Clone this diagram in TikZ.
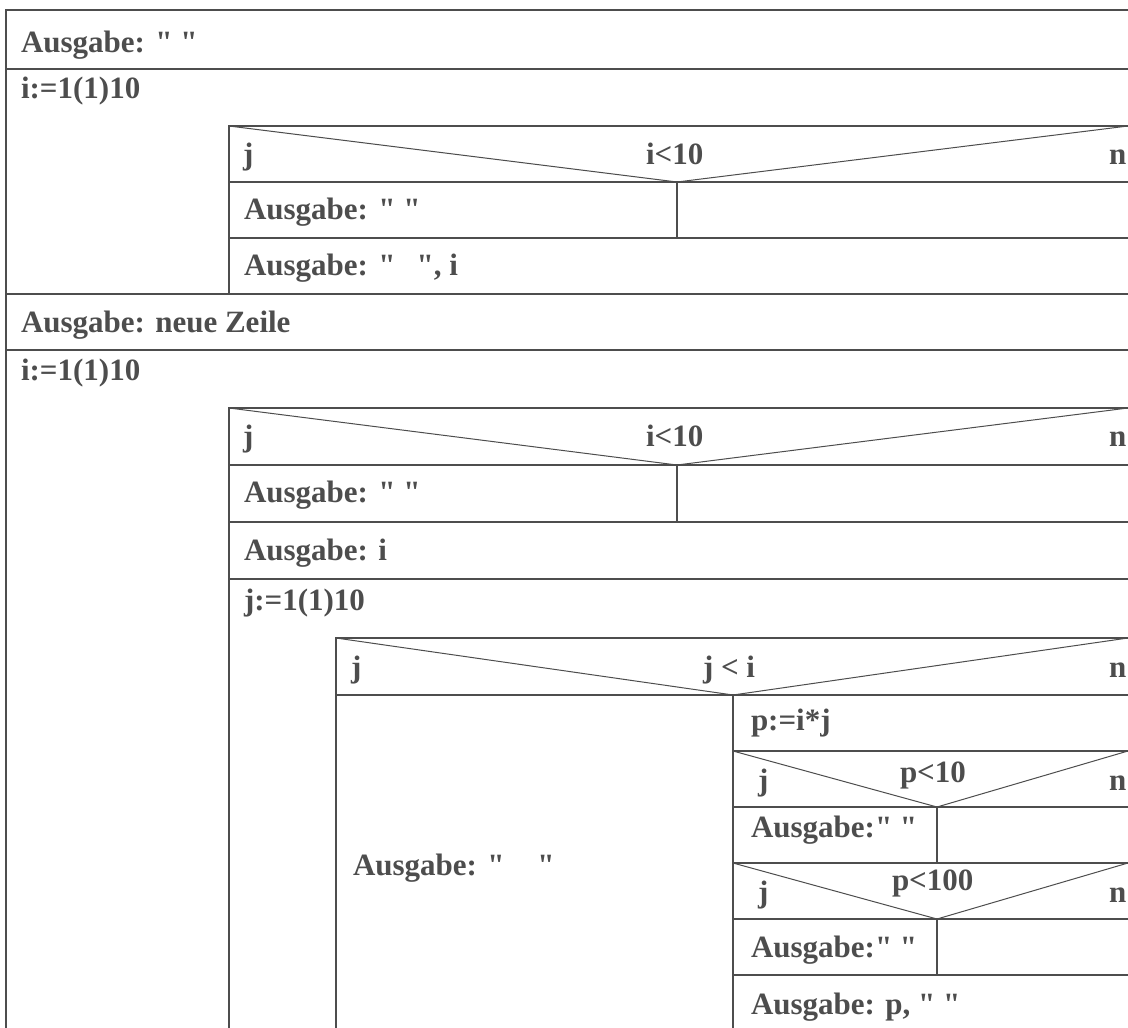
\documentclass[tikz,border=0pt]{standalone}
\usepackage{fontspec}
\setmainfont{Liberation Serif}[Ligatures=TeXOff]
\definecolor{strukgray}{HTML}{4D4D4D}
\tikzset{
  txt/.style={anchor=base west, inner sep=0pt, text=strukgray,
    font=\fontsize{31}{37}\selectfont\bfseries},
  diag/.style={line width=1pt},
}

\begin{document}
\begin{tikzpicture}[x=1pt, y=-1pt, line width=2pt, draw=strukgray]
\useasboundingbox (0,0) rectangle (1128,1028);

% outer frame, first two rows
\draw (1128,10) -- (6,10) -- (6,1028);
\draw (6,69) -- (1128,69);
\node[txt] (out1) at (20,52) {Ausgabe: " "};
\node[txt] (loop1) at (20,98) {i:=1(1)10};

% first loop body
\coordinate (d1) at (677,182); % tip of i<10
\draw (229,294) -- (229,126) -- (1128,126);
\draw (229,182) -- (1128,182);
\draw (229,238) -- (1128,238);
\draw (d1) -- (677,238);
\draw[diag] (229,126) -- (d1) -- (1128,126);
\node[txt] (j1) at (242,164) {j};
\node[txt] (c1) at (645,164) {i<10};
\node[txt] (n1) at (1108,164) {n};
\node[txt] (out2) at (243,219) {Ausgabe: " "};
\node[txt] (out3) at (243,275) {Ausgabe: "\hspace{0.68em}", i};

% middle rows
\draw (6,294) -- (1128,294);
\draw (6,350) -- (1128,350);
\node[txt] (out4) at (20,332) {Ausgabe: neue Zeile};
\node[txt] (loop2) at (20,380) {i:=1(1)10};

% second loop body
\coordinate (d2) at (677,465); % tip of i<10
\draw (229,1028) -- (229,408) -- (1128,408);
\draw (229,465) -- (1128,465);
\draw (229,522) -- (1128,522);
\draw (229,579) -- (1128,579);
\draw (d2) -- (677,522);
\draw[diag] (229,408) -- (d2) -- (1128,408);
\node[txt] (j2) at (242,446) {j};
\node[txt] (c2) at (645,446) {i<10};
\node[txt] (n2) at (1108,446) {n};
\node[txt] (out5) at (243,502) {Ausgabe: " "};
\node[txt] (out6) at (243,560) {Ausgabe: i};
\node[txt] (loop3) at (243,610) {j:=1(1)10};

% inner loop: j < i
\coordinate (d3) at (733,695); % tip of j < i
\draw (336,1028) -- (336,638) -- (1128,638);
\draw (336,695) -- (1128,695);
\draw (d3) -- (733,1028);
\draw[diag] (336,638) -- (d3) -- (1128,638);
\node[txt] (j3) at (350,677) {j};
\node[txt] (c3) at (702,677) {j < i};
\node[txt] (n3) at (1108,677) {n};
\node[txt] (out7) at (352,875) {Ausgabe: "\hspace{1.06em}"};

% right branch (n)
\coordinate (d4) at (937,807); % tip of p<10
\coordinate (d5) at (937,919); % tip of p<100
\draw (733,751) -- (1128,751);
\draw (733,807) -- (1128,807);
\draw (733,863) -- (1128,863);
\draw (733,919) -- (1128,919);
\draw (733,975) -- (1128,975);
\draw (d4) -- (937,863);
\draw (d5) -- (937,975);
\draw[diag] (733,751) -- (d4) -- (1128,751);
\draw[diag] (733,863) -- (d5) -- (1128,863);
\node[txt] (prod) at (750,730) {p:=i*j};
\node[txt] (j4) at (757,790) {j};
\node[txt] (c4) at (899,782) {p<10};
\node[txt] (n4) at (1108,790) {n};
\node[txt] (out8) at (750,837) {Ausgabe:" "};
\node[txt] (j5) at (757,902) {j};
\node[txt] (c5) at (891,890) {p<100};
\node[txt] (n5) at (1108,902) {n};
\node[txt] (out9) at (750,957) {Ausgabe:" "};
\node[txt] (out10) at (750,1014) {Ausgabe: p, " "};

\end{tikzpicture}
\end{document}
